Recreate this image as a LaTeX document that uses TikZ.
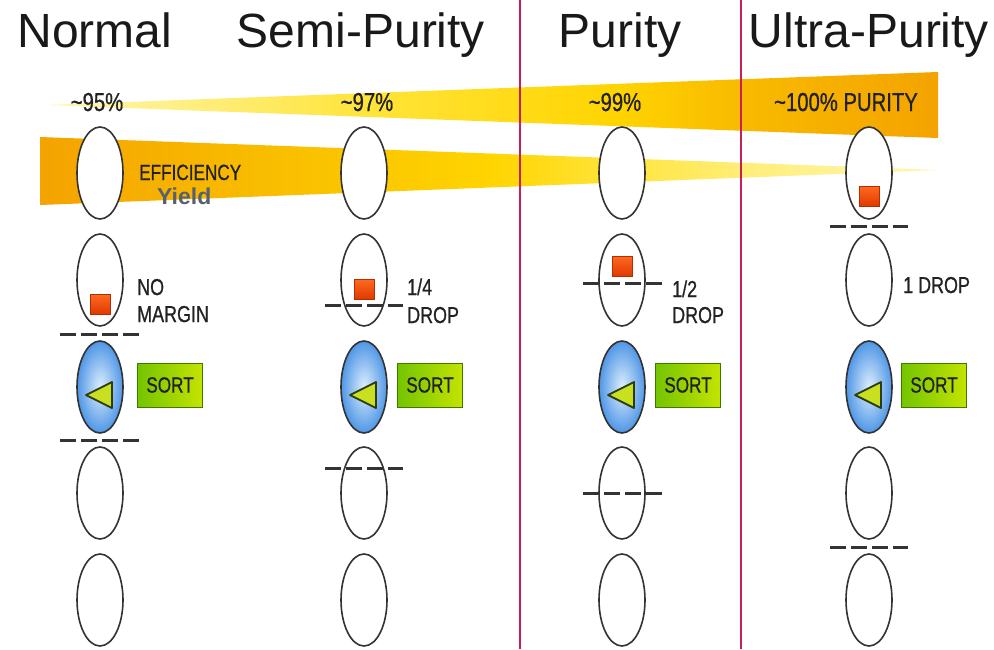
\documentclass[tikz,border=0pt]{standalone}
\usepackage{fontspec}
\setmainfont{Liberation Sans}
\newfontfamily\condf[FakeStretch=0.78,FakeBold=0.7]{Liberation Sans}
\usetikzlibrary{shapes.geometric}
\definecolor{outl}{HTML}{333333}
\definecolor{redline}{HTML}{C81E5A}
\definecolor{bandorange}{HTML}{F4A300}
\definecolor{bandorangeB}{HTML}{F8BA00}
\definecolor{bandyellow}{HTML}{FFD400}
\definecolor{bandyellowB}{HTML}{FFE43A}
\definecolor{bandpaleB}{HTML}{FFEE78}
\definecolor{bandpale}{HTML}{FFF7B8}
\definecolor{bluein}{HTML}{DDEEFD}
\definecolor{blueout}{HTML}{4F96E6}
\definecolor{greenL}{HTML}{74C400}
\definecolor{greenR}{HTML}{C4E400}
\definecolor{greenB}{HTML}{3E7A00}
\definecolor{trifill}{HTML}{C8E020}
\definecolor{tridraw}{HTML}{2E3A10}
\definecolor{sqtop}{HTML}{FF6A20}
\definecolor{sqbot}{HTML}{E03A00}
\definecolor{labelc}{HTML}{222222}
\definecolor{yieldc}{HTML}{566070}
\pgfdeclarehorizontalshading{purband}{100bp}{color(0bp)=(bandpale); color(25bp)=(bandpale);
  color(43bp)=(bandyellowB); color(57bp)=(bandyellow); color(64bp)=(bandorangeB);
  color(75bp)=(bandorange); color(100bp)=(bandorange)}
\pgfdeclarehorizontalshading{effband}{100bp}{color(0bp)=(bandorange); color(25bp)=(bandorange);
  color(36bp)=(bandorangeB); color(50bp)=(bandyellow); color(57bp)=(bandyellowB);
  color(64bp)=(bandpaleB); color(75bp)=(bandpale); color(100bp)=(bandpale)}
\begin{document}
\begin{tikzpicture}[x=1pt,y=-1pt,
  cell/.style={ellipse, draw=outl, line width=1.6pt, fill=white,
    minimum width=46pt, minimum height=92pt, inner sep=0pt},
  sortcell/.style={cell, inner color=bluein, outer color=blueout},
  titletext/.style={inner sep=0pt, anchor=base, text=black!90,
    font=\fontsize{48}{50}\selectfont},
  pct/.style={inner sep=0pt, anchor=base, text=labelc,
    font=\condf\fontsize{26}{28}\selectfont},
  lbl/.style={inner sep=0pt, anchor=base west, text=labelc,
    font=\condf\fontsize{23}{25}\selectfont},
  sortbox/.style={draw=greenB, line width=0.8pt, left color=greenL,
    right color=greenR, minimum width=65pt, minimum height=44pt,
    inner sep=0pt, text=labelc, font=\condf\fontsize{22}{24}\selectfont},
  cutline/.style={draw=outl, line width=3pt, dash pattern=on 16pt off 5pt},
  dropsq/.style={draw=sqbot!80!black, line width=0.5pt, top color=sqtop,
    bottom color=sqbot, minimum size=20pt, inner sep=0pt},
  tri/.style={draw=tridraw, line width=1.8pt, fill=trifill, line join=round}
]
\useasboundingbox (0,0) rectangle (994,649);
\fill[white] (0,0) rectangle (994,649);

% bands
\shade[shading=purband] (45,105) -- (938,72) -- (938,138) -- cycle;
\shade[shading=effband] (40,137) -- (940,170) -- (40,205) -- cycle;

% titles
\node[titletext] (tn) at (95,47) {Normal};
\node[titletext] (ts) at (361,47) {Semi-Purity};
\node[titletext] (tp) at (620,47) {Purity};
\node[titletext] (tu) at (869,47) {Ultra-Purity};

% percentages
\node[pct] (p95) at (97,111) {\textasciitilde 95\%};
\node[pct] (p97) at (367,111) {\textasciitilde 97\%};
\node[pct] (p99) at (615,111) {\textasciitilde 99\%};
\node[pct] (p100) at (846,111) {\textasciitilde 100\% PURITY};

% cells
\foreach \c/\x in {a/100,b/364,c/622,d/869}{
  \foreach \r/\y in {1/173,2/280,4/493,5/600}
    \node[cell] (\c\r) at (\x,\y) {};
  \node[sortcell] (\c3) at (\x,387) {};
  \draw[tri, shift={(\c3.center)}] (-14,8) -- (12,-5) -- (12,21) -- cycle;
}

% band labels
\node[inner sep=0pt, anchor=base west, text=labelc,
  font=\condf\fontsize{22}{24}\selectfont] (eff) at (139,180) {EFFICIENCY};
\node[inner sep=0pt, anchor=base west, text=yieldc,
  font=\bfseries\fontsize{23}{25}\selectfont] (yld) at (157,204) {Yield};

% drops
\node[dropsq] (qa) at (100,304) {};
\node[dropsq] (qb) at (364,289) {};
\node[dropsq] (qc) at (622,266) {};
\node[dropsq] (qd) at (869,196) {};

% cut lines
\draw[cutline] (60,334) -- (139,334);
\draw[cutline] (60,440) -- (139,440);
\draw[cutline] (325,305) -- (403,305);
\draw[cutline] (325,468) -- (403,468);
\draw[cutline] (583,283) -- (662,283);
\draw[cutline] (583,493) -- (662,493);
\draw[cutline] (830,226) -- (908,226);
\draw[cutline] (830,547) -- (908,547);

% labels
\node[lbl] (l1a) at (137,295) {NO};
\node[lbl] (l1b) at (137,322) {MARGIN};
\node[lbl] (l2a) at (407,295) {1/4};
\node[lbl] (l2b) at (407,323) {DROP};
\node[lbl] (l3a) at (672,297) {1/2};
\node[lbl] (l3b) at (672,323) {DROP};
\node[lbl] (l4a) at (903,293) {1 DROP};

% sort boxes
\node[sortbox] (sa) at (170,385) {SORT};
\node[sortbox] (sb) at (430,385) {SORT};
\node[sortbox] (sc) at (688,385) {SORT};
\node[sortbox] (sd) at (934,385) {SORT};

% red separators
\coordinate (r1t) at (520,0);
\coordinate (r1b) at (520,649);
\coordinate (r2t) at (741,0);
\coordinate (r2b) at (741,649);
\draw[redline, line width=2pt] (r1t) -- (r1b);
\draw[redline, line width=2pt] (r2t) -- (r2b);
\end{tikzpicture}
\end{document}
